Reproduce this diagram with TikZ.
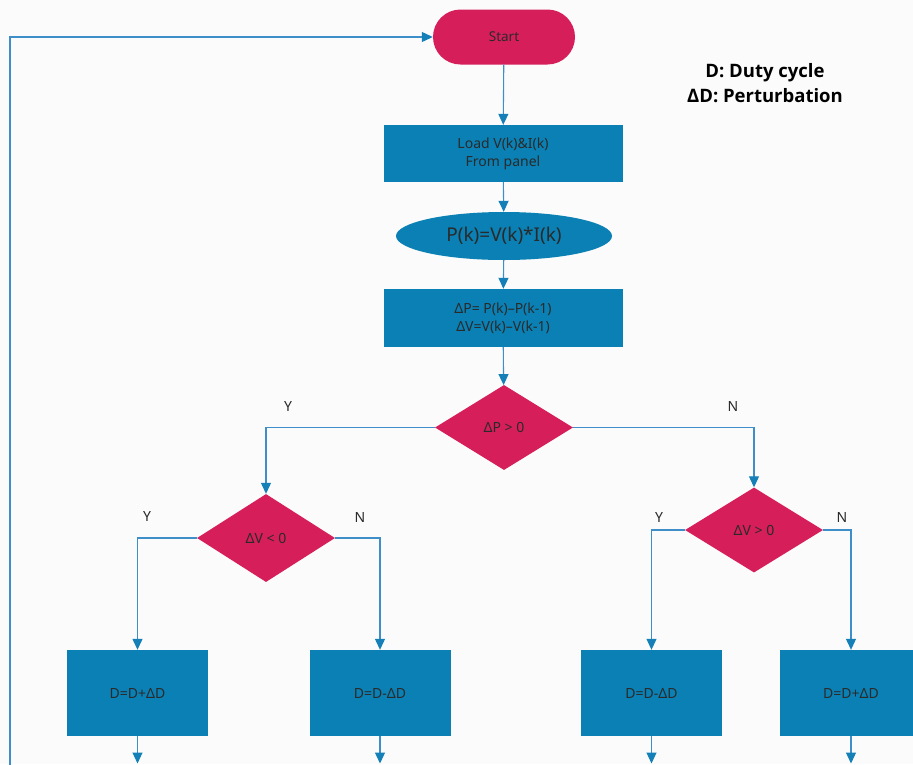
\documentclass[tikz,border=0pt]{standalone}
\usepackage{fontspec}
\setmainfont{Noto Sans}
\newfontfamily\legfont{Open Sans}
\usetikzlibrary{shapes.geometric,arrows.meta}
\definecolor{mag}{HTML}{D61F5A}
\definecolor{boxblue}{HTML}{0A80B4}
\definecolor{linec}{HTML}{3D8EC9}
\definecolor{tipc}{HTML}{1580B8}
\definecolor{txt}{HTML}{2A2A2A}
\begin{document}
\begin{tikzpicture}[x=1pt,y=-1pt,
  arr/.style={draw=linec, line width=1.1pt, -{Triangle[length=11pt,width=10pt,fill=tipc,color=tipc]}},
  terminal/.style={fill=mag, draw=none, rounded corners=27.5pt, minimum width=142pt, minimum height=55pt, inner sep=0pt, font=\fontsize{13.5}{16}\selectfont, text=txt},
  procbox/.style={fill=boxblue, draw=none, inner sep=0pt, align=center, font=\fontsize{14}{18}\selectfont, text=txt},
  ellbox/.style={ellipse, fill=boxblue, draw=none, inner sep=0pt, minimum width=216pt, minimum height=48pt, font=\fontsize{19}{22}\selectfont, text=txt},
  decision/.style={diamond, fill=mag, draw=none, inner sep=0pt, minimum width=138pt, minimum height=85pt, font=\fontsize{14}{16}\selectfont, text=txt},
  yn/.style={font=\fontsize{14}{16}\selectfont, text=txt},
  legend/.style={font=\legfont\fontsize{18.5}{25.5}\bfseries\selectfont, align=center, text=black}
]
\useasboundingbox (0,0) rectangle (913,764);
\clip (0,0) rectangle (913,764);
\fill[white!97!gray] (0,0) rectangle (913,764);

\node[terminal] (start) at (504,37) {Start};
\node[procbox, minimum width=239pt, minimum height=57pt] (load) at (503,153.5) {Load V(k)\&I(k)\\From panel};
\node[ellbox] (pk) at (504,236) {P(k)=V(k)*I(k)};
\node[procbox, minimum width=239pt, minimum height=58pt] (dp) at (503,318) {ΔP= P(k)–P(k-1)\\ΔV=V(k)–V(k-1)};
\node[decision] (d1) at (504,427.5) {ΔP > 0};
\node[decision, minimum height=88pt] (d2) at (266,538) {ΔV < 0};
\node[decision] (d3) at (754,530) {ΔV > 0};

\node[procbox, minimum width=141pt, minimum height=86pt] (b1) at (137.5,693) {D=D+ΔD};
\node[procbox, minimum width=141pt, minimum height=86pt] (b2) at (380,693) {D=D-ΔD};
\node[procbox, minimum width=141pt, minimum height=86pt] (b3) at (651.5,693) {D=D-ΔD};
\node[procbox, minimum width=142pt, minimum height=86pt] (b4) at (851,693) {D=D+ΔD};

\node[legend] (leg) at (765,83) {D: Duty cycle\\ΔD: Perturbation};

\node[yn] (y1) at (288,406) {Y};
\node[yn] (n1) at (733,406) {N};
\node[yn] (y2) at (147,516) {Y};
\node[yn] (n2) at (360,517) {N};
\node[yn] (y3) at (659,517) {Y};
\node[yn] (n3) at (842,517) {N};

\draw[arr] (start) -- (load);
\draw[arr] (load) -- (pk);
\draw[arr] (pk) -- (dp);
\draw[arr] (dp) -- (d1);
\draw[arr] (d1.west) -| (d2.north);
\draw[arr] (d1.east) -| (d3.north);
\draw[arr] (d2.west) -| (b1.north);
\draw[arr] (d2.east) -| (b2.north);
\draw[arr] (d3.west) -| (b3.north);
\draw[arr] (d3.east) -| (b4.north);

\coordinate (bot) at (0,763.5);
\draw[arr] (b1.south) -- (b1.south |- bot);
\draw[arr] (b2.south) -- (b2.south |- bot);
\draw[arr] (b3.south) -- (b3.south |- bot);
\draw[arr] (b4.south) -- (b4.south |- bot);

\coordinate (fb) at (10,770);
\draw[arr] (fb) |- (start.west);
\end{tikzpicture}
\end{document}
